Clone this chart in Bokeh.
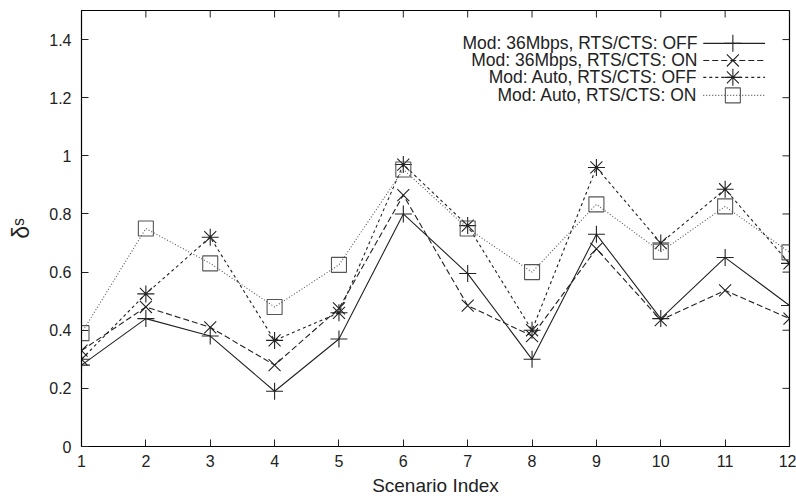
from bokeh.plotting import figure
from bokeh.models import Range1d, FixedTicker, Label
from bokeh.embed import file_html
from bokeh.resources import INLINE

scenario = [1, 2, 3, 4, 5, 6, 7, 8, 9, 10, 11, 12]
m36_off = [0.28, 0.44, 0.38, 0.19, 0.37, 0.80, 0.595, 0.30, 0.73, 0.44, 0.65, 0.485]
m36_on = [0.33, 0.48, 0.41, 0.28, 0.475, 0.865, 0.485, 0.38, 0.68, 0.435, 0.537, 0.44]
auto_off = [0.30, 0.525, 0.72, 0.365, 0.46, 0.97, 0.76, 0.40, 0.96, 0.70, 0.885, 0.63]
auto_on = [0.39, 0.75, 0.63, 0.48, 0.625, 0.953, 0.75, 0.60, 0.833, 0.67, 0.826, 0.668]
names = ["Mod: 36Mbps, RTS/CTS: OFF", "Mod: 36Mbps, RTS/CTS: ON",
         "Mod: Auto, RTS/CTS: OFF", "Mod: Auto, RTS/CTS: ON"]
x_ticks = list(range(1, 13))
y_ticks = [0, 0.2, 0.4, 0.6, 0.8, 1.0, 1.2, 1.4]

FONT = "Liberation Sans"
X0, X1, Y0, Y1 = 1, 12, 0, 1.5

p = figure(width=796, height=500, output_backend="svg", toolbar_location=None,
           x_range=Range1d(X0, X1), y_range=Range1d(Y0, Y1),
           min_border_left=81, min_border_right=7, min_border_top=10, min_border_bottom=54)
p.xgrid.visible = False
p.ygrid.visible = False
p.outline_line_color = "black"
p.outline_line_width = 1.2
p.background_fill_color = "white"
p.border_fill_color = "white"

for ax in (p.xaxis[0], p.yaxis[0]):
    ax.major_tick_in = 7
    ax.major_tick_out = 0
    ax.minor_tick_in = 0
    ax.minor_tick_out = 0
    ax.axis_line_color = "black"
    ax.major_tick_line_color = "#222222"
    ax.major_label_text_font = FONT
    ax.major_label_text_font_size = "16px"
    ax.major_label_text_color = "#222222"
    ax.axis_label_text_font = FONT
    ax.axis_label_text_font_style = "normal"
    ax.axis_label_text_font_size = "19px"
    ax.axis_label_text_color = "#222222"

p.xaxis.ticker = FixedTicker(ticks=x_ticks)
p.yaxis.ticker = FixedTicker(ticks=y_ticks)
p.yaxis.major_label_overrides = {0: "0", 0.2: "0.2", 0.4: "0.4", 0.6: "0.6", 0.8: "0.8",
                                 1.0: "1", 1.2: "1.2", 1.4: "1.4"}
p.xaxis.axis_label = "Scenario Index"
p.yaxis.axis_label = "δˢ"
p.yaxis.axis_label_text_font_size = "23px"
p.xaxis.major_label_standoff = 8
p.yaxis.major_label_standoff = 10
p.xaxis.axis_label_standoff = 5
p.yaxis.axis_label_standoff = 12

# mirrored inward ticks on the top and right frame edges
tx = 7 * (X1 - X0) / 708.0
ty = 7 * (Y1 - Y0) / 436.0
p.segment(x0=x_ticks, y0=[Y1] * len(x_ticks), x1=x_ticks, y1=[Y1 - ty] * len(x_ticks),
          line_color="#222222", line_width=1)
p.segment(x0=[X1] * len(y_ticks), y0=y_ticks, x1=[X1 - tx] * len(y_ticks), y1=y_ticks,
          line_color="#222222", line_width=1)

series = [
    (m36_off, "#222222", "solid", "cross"),
    (m36_on, "#222222", "6 3", "x"),
    (auto_off, "#222222", "3 3", "asterisk"),
    (auto_on, "#555555", "1 2", "square"),
]
for ys, col, dash, mk in series:
    p.line(scenario, ys, line_color=col, line_dash=dash, line_width=1.1)
    p.scatter(scenario, ys, marker=mk, size=17 if mk != "square" else 15,
              line_color=col, fill_color=None, line_width=1.1)

# legend (top right, gnuplot style: label left, sample right)
leg_y = [1.387, 1.328, 1.27, 1.208]
for (ys, col, dash, mk), name, ly in zip(series, names, leg_y):
    p.add_layout(Label(x=10.57, y=ly, text=name, text_align="right", text_baseline="middle",
                       text_font=FONT, text_font_size="17.5px", text_color="#222222"))
    p.line([10.66, 11.62], [ly, ly], line_color=col, line_dash=dash, line_width=1.1)
    p.scatter([11.12], [ly], marker=mk, size=17 if mk != "square" else 15,
              line_color=col, fill_color=None, line_width=1.1)

open("out.html", "w").write(file_html(p, INLINE))
